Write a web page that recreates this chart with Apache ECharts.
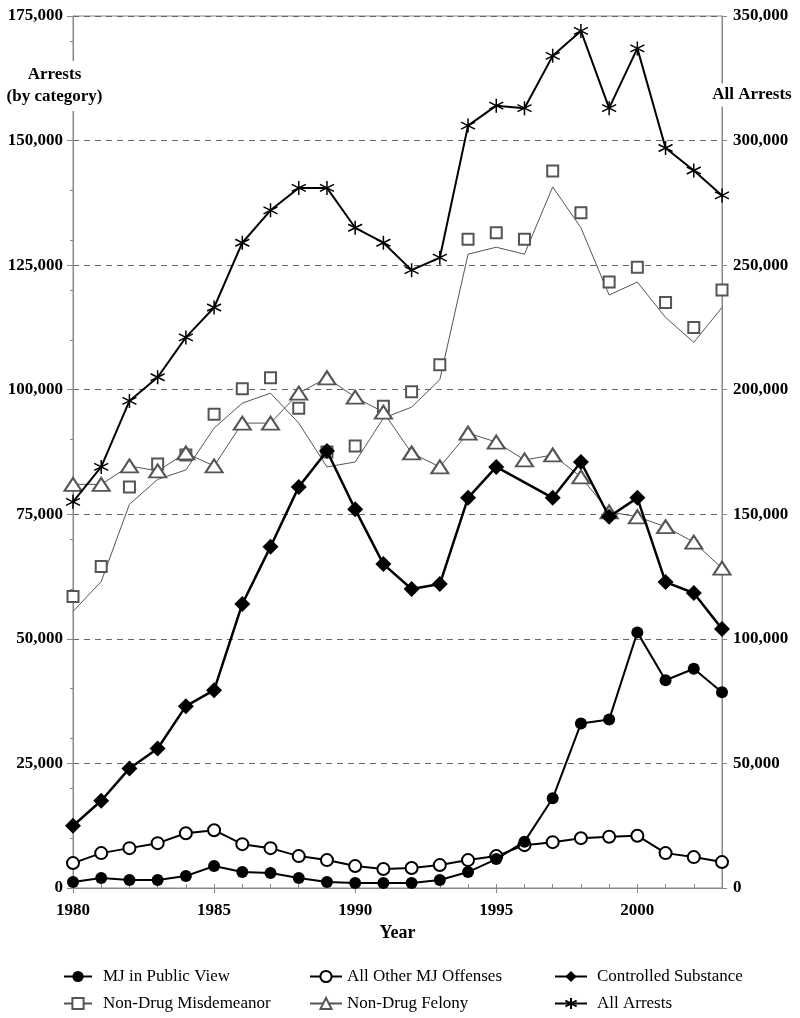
<!DOCTYPE html>
<html>
<head>
<meta charset="utf-8">
<script src="https://cdn.jsdelivr.net/npm/echarts@6/dist/echarts.min.js"></script>
<style>
html,body{margin:0;padding:0;background:#fff;}
#chart{width:800px;height:1018px;}
</style>
</head>
<body>
<div id="chart"></div>
<script>
var years = ['1980','1981','1982','1983','1984','1985','1986','1987','1988','1989','1990','1991','1992','1993','1994','1995','1996','1997','1998','1999','2000','2001','2002','2003'];
var mjPublicView = [1200, 2000, 1600, 1600, 2400, 4400, 3200, 3000, 2000, 1200, 1000, 1000, 1000, 1600, 3200, 5800, 9300, 18000, 33000, 33800, 51300, 41700, 44000, 39300];
var allOtherMJ = [5000, 7000, 8000, 9000, 11000, 11600, 8800, 8000, 6400, 5600, 4400, 3800, 4000, 4600, 5600, 6400, 8600, 9200, 10000, 10300, 10500, 7000, 6200, 5200];
var controlledSubstance = [12500, 17500, 24000, 28000, 36500, 39700, 57000, 68500, 80500, 87700, 76000, 65000, 60000, 61000, 78300, 84500, null, 78300, 85500, 74500, 78300, 61400, 59200, 52000];
var misdemeanorPoints = [58500, 64500, 80500, 85100, 86900, 95100, 100200, 102400, 96300, 87500, 88700, 96700, 99600, 105000, 130200, 131500, 130200, 143900, 135500, 121600, 124600, 117500, 112500, 120000];
var misdemeanorLine = [55500, 61500, 77000, 82000, 83900, 92300, 97300, 99300, 93300, 84500, 85500, 94300, 96500, 102000, 127200, 128600, 127200, 140700, 132500, 119000, 121600, 114500, 109500, 116500];
var felony = [81000, 81000, 84700, 83700, 87300, 84700, 93300, 93300, 99300, 102400, 98500, 95500, 87300, 84500, 91300, 89500, 85900, 86900, 82500, 75500, 74500, 72500, 69400, 64200];
var allArrests = [155000, 169000, 195500, 205000, 221000, 233000, 259000, 272000, 281000, 281000, 265000, 259000, 248000, 253000, 306000, 314000, 313000, 334000, 344000, 313000, 337000, 297000, 288000, 278000];

var FONT = "'Liberation Serif', 'Times New Roman', serif";
var AXIS_COLOR = '#888';
function fmt(v){ return String(v).replace(/\B(?=(\d{3})+(?!\d))/g, ','); }
var labelStyle = {fontFamily: FONT, fontWeight: 'bold', fontSize: 17, color: '#000'};
var asterisk = 'path://M10,0L10,20M1.34,5L18.66,15M1.34,15L18.66,5';
var legendText = {fontFamily: FONT, fontSize: 17, color: '#000'};

var chart = echarts.init(document.getElementById('chart'), null, {renderer: 'canvas'});
var option = {
  animation: false,
  backgroundColor: '#fff',
  grid: {left: 73, right: 78, top: 16, bottom: 130, show: true, borderColor: AXIS_COLOR, borderWidth: 1, backgroundColor: 'transparent'},
  xAxis: [{
    type: 'category', data: years, boundaryGap: false,
    axisLine: {lineStyle: {color: AXIS_COLOR, width: 1}},
    axisTick: {inside: true, length: 4, interval: 0, lineStyle: {color: AXIS_COLOR}},
    axisLabel: Object.assign({interval: function(i, v){ return Number(v) % 5 === 0; }, margin: 14}, labelStyle),
    splitLine: {show: false},
    name: 'Year', nameLocation: 'middle', nameGap: 35,
    nameTextStyle: {fontFamily: FONT, fontWeight: 'bold', fontSize: 18, color: '#000'}
  }, {
    type: 'category', data: years, boundaryGap: false, position: 'bottom',
    axisLine: {show: false},
    axisTick: {inside: false, length: 5, interval: function(i, v){ return Number(v) % 5 === 0; }, lineStyle: {color: AXIS_COLOR}},
    axisLabel: {show: false}, splitLine: {show: false}
  }],
  yAxis: [{
    type: 'value', min: 0, max: 175000, interval: 25000, position: 'left',
    axisLine: {show: true, lineStyle: {color: AXIS_COLOR}},
    axisTick: {show: true, length: 6, lineStyle: {color: AXIS_COLOR}},
    axisLabel: Object.assign({formatter: fmt, margin: 10}, labelStyle),
    splitLine: {show: true, lineStyle: {color: '#666', type: [6, 5], width: 1}}
  }, {
    type: 'value', min: 0, max: 350000, interval: 50000, position: 'right',
    axisLine: {show: true, lineStyle: {color: AXIS_COLOR}},
    axisTick: {show: true, length: 5, lineStyle: {color: AXIS_COLOR}},
    axisLabel: Object.assign({formatter: fmt, margin: 11}, labelStyle),
    splitLine: {show: false}
  }, {
    type: 'value', min: 0, max: 175000, interval: 10000, position: 'left',
    axisLine: {show: false},
    axisTick: {show: true, length: 3, lineStyle: {color: AXIS_COLOR}},
    axisLabel: {show: false}, splitLine: {show: false}
  }],
  legend: [
    {data: ['MJ in Public View', 'Non-Drug Misdemeanor'], left: 58, top: 963, orient: 'vertical', itemGap: 10, itemWidth: 28, itemHeight: 14,
     textStyle: Object.assign({padding: [0, 0, 0, 6]}, legendText)},
    {data: ['All Other MJ Offenses', 'Non-Drug Felony'], left: 304, top: 963, orient: 'vertical', itemGap: 10, itemWidth: 32, itemHeight: 14,
     textStyle: Object.assign({padding: [0, 0, 0, 0]}, legendText)},
    {data: ['Controlled Substance', 'All Arrests'], left: 549, top: 963, orient: 'vertical', itemGap: 10, itemWidth: 32, itemHeight: 14,
     textStyle: Object.assign({padding: [0, 0, 0, 5]}, legendText)}
  ],
  graphic: [
    {type: 'text', z: 100, x: 54.5, y: 86, style: {text: 'Arrests\n(by category)', align: 'center', verticalAlign: 'middle',
      font: "bold 17px 'Liberation Serif', serif", lineHeight: 22, fill: '#000', backgroundColor: '#fff', padding: [3, 0]}},
    {type: 'text', z: 100, x: 752, y: 95, style: {text: 'All Arrests', align: 'center', verticalAlign: 'middle',
      font: "bold 17px 'Liberation Serif', serif", fill: '#000', backgroundColor: '#fff', padding: [3, 0]}}
  ],
  series: [
    {name: 'Non-Drug Misdemeanor', type: 'line', data: misdemeanorLine, symbol: 'emptyRect', symbolSize: 11, showSymbol: false,
     lineStyle: {color: '#555', width: 1}, itemStyle: {color: '#555', borderColor: '#555', borderWidth: 1}, z: 2},
    {name: 'Non-Drug Misdemeanor points', type: 'line', data: misdemeanorPoints, symbol: 'emptyRect', symbolSize: 11,
     lineStyle: {width: 0, opacity: 0}, itemStyle: {color: '#555', borderColor: '#555', borderWidth: 1}, z: 3},
    {name: 'Non-Drug Felony', type: 'line', data: felony, symbol: 'emptyTriangle', symbolSize: [17, 13],
     lineStyle: {color: '#555', width: 1}, itemStyle: {color: '#555', borderColor: '#555', borderWidth: 1}, z: 3},
    {name: 'All Other MJ Offenses', type: 'line', data: allOtherMJ, symbol: 'emptyCircle', symbolSize: 12,
     lineStyle: {color: '#000', width: 2}, itemStyle: {color: '#000', borderColor: '#000', borderWidth: 1.2}, z: 4},
    {name: 'MJ in Public View', type: 'line', data: mjPublicView, symbol: 'circle', symbolSize: 12,
     lineStyle: {color: '#000', width: 2}, itemStyle: {color: '#000'}, z: 5},
    {name: 'Controlled Substance', type: 'line', data: controlledSubstance, symbol: 'diamond', symbolSize: 16, connectNulls: true,
     lineStyle: {color: '#000', width: 2.5}, itemStyle: {color: '#000'}, z: 6},
    {name: 'All Arrests', type: 'line', yAxisIndex: 1, data: allArrests, symbol: asterisk, symbolSize: 14,
     lineStyle: {color: '#000', width: 2}, itemStyle: {color: '#000', borderColor: '#000', borderWidth: 1.5}, z: 6}
  ]
};
chart.setOption(option);
</script>
</body>
</html>
